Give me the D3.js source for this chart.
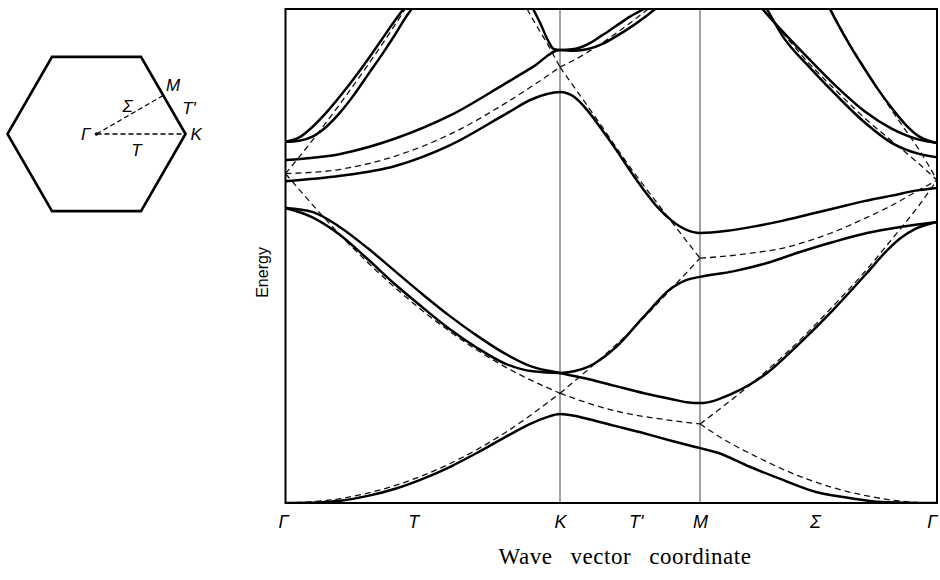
<!DOCTYPE html>
<html>
<head>
<meta charset="utf-8">
<script src="https://cdn.jsdelivr.net/npm/d3@7"></script>
<style>
    body { margin: 0; background: #fff; }
    svg { display: block; }
</style>
</head>
<body>
<svg id="chart" width="940" height="580"></svg>
<script>
// Path coordinate in units of |ΓK|: Γ=0, K=1, M=1.5, Γ=2.366
var symPoints = [0, 1, 1.5, 2.366];
var tickPos    = [0, 0.465, 1, 1.27, 1.5, 1.92, 2.366];
var tickLabels = ["Γ", "T", "K", "T'", "M", "Σ", "Γ"];

// Nearly-free-electron bands (solid), [k, E]
var band1 = [[0,0],[0.1,0.002],[0.2,0.02],[0.3,0.065],[0.4,0.13],[0.5,0.22],[0.6,0.33],[0.7,0.46],[0.8,0.60],[0.9,0.73],[0.95,0.78],[1,0.81],
             [1.05,0.795],[1.1,0.765],[1.2,0.70],[1.3,0.635],[1.4,0.565],[1.5,0.50],
             [1.562,0.46],[1.682,0.33],[1.803,0.21],[1.924,0.10],[2.045,0.046],[2.165,0.01],[2.366,0]];
var band2 = [[0,2.687],[0.1,2.65],[0.2,2.51],[0.3,2.32],[0.4,2.11],[0.5,1.90],[0.6,1.70],[0.7,1.52],[0.8,1.36],[0.9,1.24],[1,1.184],
             [1.1,1.13],[1.2,1.065],[1.3,1.0],[1.4,0.945],[1.46,0.915],[1.5,0.91],
             [1.621,1.0],[1.745,1.184],[1.865,1.457],[1.986,1.758],[2.11,2.095],[2.183,2.30],[2.231,2.41],[2.285,2.495],[2.366,2.56]];
var band2b = [[0,2.687],[0.1,2.60],[0.2,2.44],[0.3,2.22],[0.4,1.99],[0.5,1.78],[0.6,1.58],[0.7,1.41],[0.8,1.27],[0.9,1.20],[1,1.184],
              [1.05,1.20],[1.1,1.24],[1.2,1.42],[1.3,1.70],[1.4,1.96],[1.45,2.03],[1.5,2.06],
              [1.621,2.11],[1.745,2.186],[1.865,2.286],[1.986,2.377],[2.11,2.459],[2.231,2.514],[2.366,2.56]];
var band3 = [[0,2.93],[0.2,2.98],[0.4,3.07],[0.6,3.26],[0.8,3.54],[0.9,3.68],[1,3.743],
             [1.05,3.70],[1.1,3.57],[1.15,3.40],[1.2,3.22],[1.25,3.03],[1.3,2.85],[1.35,2.69],[1.4,2.57],[1.45,2.49],[1.5,2.46],
             [1.6,2.48],[1.7,2.52],[1.8,2.57],[1.9,2.63],[2.0,2.69],[2.1,2.75],[2.2,2.80],[2.3,2.85],[2.366,2.87]];
var band4 = [[0,3.124],[0.2,3.18],[0.4,3.32],[0.6,3.53],[0.8,3.82],[0.9,3.97],[1,4.126],
             [1.05,4.12],[1.1,4.135],[1.15,4.18],[1.2,4.25],[1.25,4.33],[1.3,4.42],[1.34,4.5]];
var bandTop = [[0.902,4.5],[0.93,4.36],[0.955,4.22],[0.975,4.14],[1,4.126],
               [1.05,4.135],[1.1,4.18],[1.15,4.26],[1.2,4.345],[1.25,4.43],[1.3,4.5]];
var steepA = [[0,3.29],[0.05,3.33],[0.1,3.43],[0.15,3.56],[0.2,3.71],[0.25,3.87],[0.3,4.04],[0.35,4.22],[0.4,4.40],[0.43,4.5]];
var steepB = [[0,3.29],[0.05,3.30],[0.1,3.34],[0.15,3.43],[0.2,3.56],[0.25,3.72],[0.3,3.90],[0.35,4.08],[0.4,4.27],[0.445,4.45],[0.46,4.5]];
var rightA = [[1.728,4.5],[1.8,4.30],[1.9,4.04],[2.0,3.79],[2.1,3.57],[2.2,3.41],[2.3,3.31],[2.366,3.28]];
var rightB = [[1.745,4.5],[1.8,4.26],[1.9,3.97],[2.0,3.71],[2.1,3.47],[2.2,3.28],[2.3,3.18],[2.366,3.15]];
var rightS = [[1.975,4.5],[2.0,4.38],[2.05,4.16],[2.1,3.96],[2.15,3.77],[2.2,3.60],[2.25,3.45],[2.3,3.34],[2.366,3.28]];

// Free-electron parabolas (dashed), one segment per stretch of the path
var freeGK = [
    [[0,0],[0.2,0.04],[0.4,0.16],[0.6,0.36],[0.8,0.64],[1,1]],
    [[0,3],[0.2,2.44],[0.4,1.96],[0.6,1.56],[0.8,1.24],[1,1]],
    [[0,3],[0.2,3.04],[0.4,3.16],[0.6,3.36],[0.8,3.64],[1,3.97]],
    [[0,3],[0.1,3.31],[0.2,3.64],[0.3,3.99],[0.4,4.36],[0.436,4.5]],
    [[0.88,4.5],[0.9,4.41],[0.95,4.2],[1,3.97]]
];
var freeKM = [
    [[1,1],[1.125,0.89],[1.25,0.81],[1.375,0.76],[1.5,0.72]],
    [[1,1],[1.125,1.27],[1.25,1.56],[1.375,1.89],[1.5,2.23]],
    [[1,3.97],[1.125,3.52],[1.25,3.06],[1.375,2.64],[1.5,2.23]],
    [[1,3.97],[1.082,4.08],[1.179,4.24],[1.3,4.47],[1.315,4.5]]
];
var freeMG = [
    [[1.5,0.72],[1.6,0.56],[1.7,0.43],[1.8,0.31],[1.9,0.21],[2.0,0.13],[2.1,0.07],[2.2,0.027],[2.3,0.004],[2.366,0]],
    [[1.5,0.72],[1.6,0.91],[1.7,1.11],[1.8,1.33],[1.9,1.57],[2.0,1.83],[2.1,2.1],[2.2,2.40],[2.3,2.71],[2.366,2.94]],
    [[1.5,2.23],[1.6,2.25],[1.7,2.28],[1.8,2.32],[1.9,2.39],[2.0,2.48],[2.1,2.59],[2.2,2.71],[2.3,2.85],[2.366,2.94]],
    [[1.73,4.5],[1.8,4.29],[1.9,4.0],[2.0,3.75],[2.1,3.51],[2.2,3.3],[2.3,3.09],[2.366,2.94]],
    [[1.977,4.5],[2.0,4.39],[2.05,4.17],[2.1,3.97],[2.15,3.77],[2.2,3.58],[2.25,3.40],[2.3,3.22],[2.366,2.94]]
];

// Brillouin zone inset: symmetry points in units of |ΓK|
var bzPoints = { G: [0, 0], K: [1, 0], M: [0.75, 0.433] };
var bzLabels = [
    { t: "Γ",  p: [-0.12, 0]    },
    { t: "Σ",  p: [0.35, 0.31]  },
    { t: "M",  p: [0.86, 0.55]  },
    { t: "T'", p: [1.04, 0.29]  },
    { t: "K",  p: [1.12, 0]     },
    { t: "T",  p: [0.45, -0.18] }
];

var svg = d3.select("#chart");

var x = d3.scaleLinear().domain(symPoints).range([285.5, 560, 700, 937]);
var y = d3.scaleLinear().domain([0, 4.5]).range([503, 9]);

var line = d3.line()
    .x(function(d) { return x(d[0]); })
    .y(function(d) { return y(d[1]); })
    .curve(d3.curveMonotoneX);

svg.append("clipPath").attr("id", "frame-clip")
  .append("rect")
    .attr("x", x(0)).attr("y", y(4.5))
    .attr("width", x(2.366) - x(0)).attr("height", y(0) - y(4.5));

// vertical lines at K and M
svg.append("g").selectAll("line")
    .data([1, 1.5])
  .enter().append("line")
    .attr("x1", function(d) { return x(d); }).attr("x2", function(d) { return x(d); })
    .attr("y1", y(4.5)).attr("y2", y(0))
    .attr("stroke", "#444").attr("stroke-width", 1);

var plot = svg.append("g").attr("clip-path", "url(#frame-clip)");

plot.append("g").selectAll("path")
    .data(freeGK.concat(freeKM, freeMG))
  .enter().append("path")
    .attr("d", line)
    .attr("fill", "none").attr("stroke", "#111")
    .attr("stroke-width", 1.3).attr("stroke-dasharray", "6,4");

plot.append("g").selectAll("path")
    .data([band1, band2, band2b, band3, band4, bandTop, steepA, steepB, rightA, rightB, rightS])
  .enter().append("path")
    .attr("d", line)
    .attr("fill", "none").attr("stroke", "#000")
    .attr("stroke-width", 2.5).attr("stroke-linejoin", "round");

// frame
svg.append("rect")
    .attr("x", x(0)).attr("y", y(4.5))
    .attr("width", x(2.366) - x(0)).attr("height", y(0) - y(4.5))
    .attr("fill", "none").attr("stroke", "#000").attr("stroke-width", 2);

// symmetry labels along the path
var xAxis = d3.axisBottom(x)
    .tickValues(tickPos)
    .tickFormat(function(d, i) { return tickLabels[i]; })
    .tickSize(0).tickPadding(12);

var ax = svg.append("g").attr("transform", "translate(0," + y(0) + ")").call(xAxis);
ax.select(".domain").remove();
ax.selectAll("text")
    .attr("font-family", "Liberation Sans, Arial, sans-serif")
    .attr("font-style", "italic")
    .attr("font-size", 18)
    .attr("fill", "#000")
    .attr("text-anchor", function(d, i) { return i === tickPos.length - 1 ? "end" : "middle"; })
    .attr("dx", function(d, i) { return i === 0 ? -2.5 : 0; });

svg.append("text")
    .attr("transform", "translate(268," + y(2.1) + ") rotate(-90)")
    .attr("text-anchor", "middle")
    .attr("font-family", "Liberation Sans, Arial, sans-serif")
    .attr("font-size", 16)
    .text("Energy");

svg.append("text")
    .attr("x", 625).attr("y", 564)
    .attr("text-anchor", "middle")
    .attr("font-family", "Liberation Serif, Times New Roman, serif")
    .attr("font-size", 23)
    .attr("letter-spacing", 0.5)
    .attr("word-spacing", 12)
    .text("Wave vector coordinate");

// inset: hexagonal Brillouin zone
var bx = d3.scaleLinear().domain([-1, 1]).range([96.5 - 89, 96.5 + 89]);
var by = d3.scaleLinear().domain([-1, 1]).range([134 + 89, 134 - 89]);
var hexagon = d3.range(6).map(function(i) {
    return [Math.cos(i * Math.PI / 3), Math.sin(i * Math.PI / 3)];
});

var inset = svg.append("g");
inset.append("path")
    .attr("d", d3.line().x(function(d) { return bx(d[0]); }).y(function(d) { return by(d[1]); })(hexagon) + "Z")
    .attr("fill", "none").attr("stroke", "#000").attr("stroke-width", 2.6)
    .attr("stroke-linejoin", "miter");

inset.selectAll("line.path")
    .data([bzPoints.K, bzPoints.M])
  .enter().append("line")
    .attr("class", "path")
    .attr("x1", bx(0)).attr("y1", by(0))
    .attr("x2", function(d) { return bx(d[0]); }).attr("y2", function(d) { return by(d[1]); })
    .attr("stroke", "#000").attr("stroke-width", 1.4).attr("stroke-dasharray", "5,3");

inset.append("circle")
    .attr("cx", bx(0)).attr("cy", by(0)).attr("r", 1.8).attr("fill", "#000");

inset.selectAll("text")
    .data(bzLabels)
  .enter().append("text")
    .attr("x", function(d) { return bx(d.p[0]); })
    .attr("y", function(d) { return by(d.p[1]); })
    .attr("text-anchor", "middle")
    .attr("dominant-baseline", "central")
    .attr("font-family", "Liberation Sans, Arial, sans-serif")
    .attr("font-style", "italic")
    .attr("font-size", 17)
    .text(function(d) { return d.t; });
</script>
</body>
</html>
